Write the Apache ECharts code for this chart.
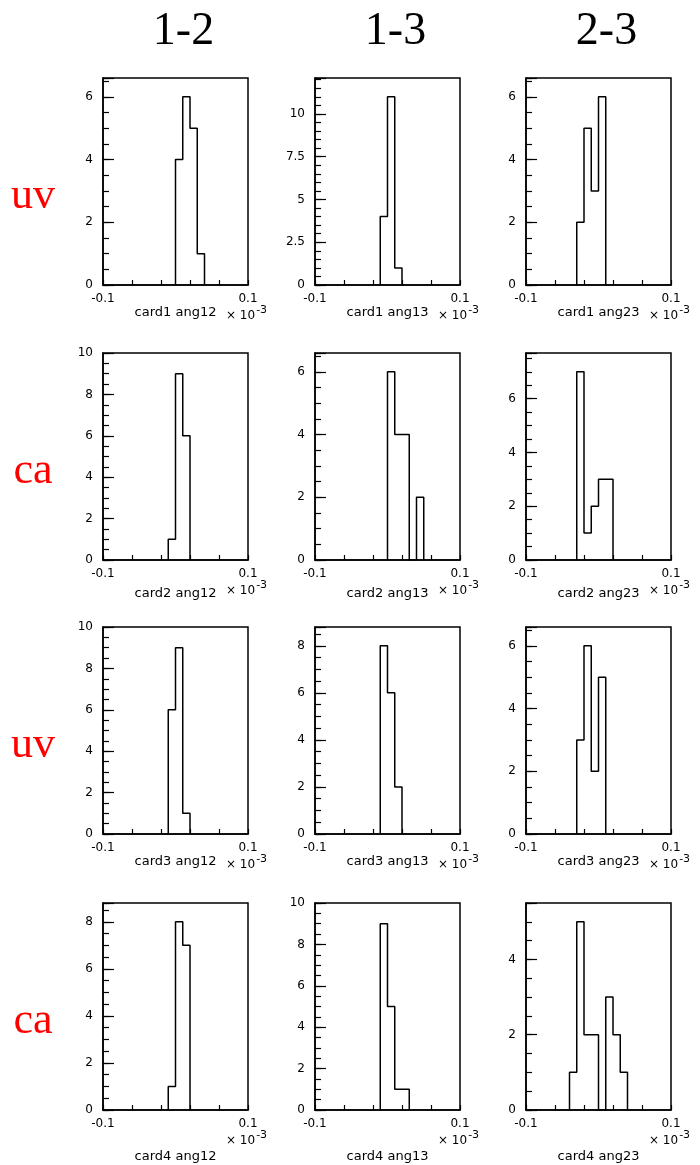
<!DOCTYPE html>
<html>
<head>
<meta charset="utf-8">
<script src="https://cdn.jsdelivr.net/npm/echarts@6/dist/echarts.min.js"></script>
<style>
  html, body { margin: 0; padding: 0; background: #fff; }
  #chart { width: 700px; height: 1165px; }
</style>
</head>
<body>
<div id="chart"></div>
<script>
// column / row headers
const columnNames = ['1-2', '1-3', '2-3'];
const rowNames = ['uv', 'ca', 'uv', 'ca'];

// one entry per panel, row by row
const panelTitles = [
  'card1 ang12', 'card1 ang13', 'card1 ang23',
  'card2 ang12', 'card2 ang13', 'card2 ang23',
  'card3 ang12', 'card3 ang13', 'card3 ang23',
  'card4 ang12', 'card4 ang13', 'card4 ang23'
];
const binWidth = 0.01;
const binStarts = [
  0.00, -0.01, -0.03,
  -0.01, 0.00, -0.03,
  -0.01, -0.01, -0.03,
  -0.01, -0.01, -0.04
];
const binCounts = [
  [4, 6, 5, 1], [4, 11, 1], [2, 5, 3, 6],
  [1, 9, 6], [6, 4, 4, 0, 2], [7, 1, 2, 3, 3],
  [6, 9, 1], [8, 6, 2], [3, 6, 2, 5],
  [1, 8, 7], [9, 5, 1, 1], [1, 5, 2, 2, 0, 3, 2, 1]
];
const yMaxes = [
  6.6, 12.1, 6.6,
  10, 6.6, 7.7,
  10, 8.8, 6.6,
  8.8, 10, 5.5
];
const yLabelSteps = [
  2, 2.5, 2,
  2, 2, 2,
  2, 2, 2,
  2, 2, 2
];
const yMinorStep = 0.5;
const xMin = -0.1;
const xMax = 0.1;
const xTickStep = 0.04;

// layout
const colLefts = [103, 315, 526];
const rowTops = [78, 353, 627, 903];
const titleGaps = [13, 27, 17, 40];
const boxW = 145;
const boxH = 207;
const labelFont = 'DejaVu Sans';
const serif = 'Liberation Serif';

function stepPoints(start, counts) {
  const pts = [[start, 0]];
  counts.forEach((c, i) => {
    const x0 = +(start + i * binWidth).toFixed(4);
    const x1 = +(start + (i + 1) * binWidth).toFixed(4);
    pts.push([x0, c]);
    pts.push([x1, c]);
  });
  pts.push([+(start + counts.length * binWidth).toFixed(4), 0]);
  return pts;
}

const grids = [];
const xAxes = [];
const yAxes = [];
const series = [];
const graphics = [];

panelTitles.forEach((title, i) => {
  const row = Math.floor(i / 3);
  const col = i % 3;
  const left = colLefts[col];
  const top = rowTops[row];
  const step = yLabelSteps[i];

  grids.push({
    left: left, top: top, width: boxW, height: boxH,
    show: true, borderColor: '#000', borderWidth: 1.5,
    backgroundColor: 'transparent'
  });

  xAxes.push({
    gridIndex: i, type: 'value', min: xMin, max: xMax, interval: xTickStep,
    axisLine: { onZero: false, lineStyle: { color: '#000', width: 1.5 } },
    axisTick: { inside: true, length: 5, lineStyle: { color: '#000', width: 1.2 } },
    splitLine: { show: false },
    axisLabel: {
      margin: 8, fontSize: 12, fontFamily: labelFont, color: '#000',
      showMinLabel: true, showMaxLabel: true,
      formatter: v => Math.abs(v - xMin) < 1e-9 ? '-0.1' : (Math.abs(v - xMax) < 1e-9 ? '0.1' : '')
    },
    name: title, nameLocation: 'middle', nameGap: titleGaps[row],
    nameTextStyle: { fontSize: 13, fontFamily: labelFont, color: '#000' }
  });

  // minor ticks every 0.5
  yAxes.push({
    gridIndex: i, type: 'value', min: 0, max: yMaxes[i], interval: yMinorStep,
    axisLine: { show: true, onZero: false, lineStyle: { color: '#000', width: 1.5 } },
    axisTick: { inside: true, length: 6, lineStyle: { color: '#000', width: 1.2 } },
    axisLabel: { show: false },
    splitLine: { show: false }
  });
  // labelled major ticks
  yAxes.push({
    gridIndex: i, type: 'value', min: 0, max: yMaxes[i], interval: step,
    position: 'left', offset: 0,
    axisLine: { show: false, onZero: false },
    axisTick: { inside: true, length: 11, lineStyle: { color: '#000', width: 1.2 } },
    splitLine: { show: false },
    axisLabel: {
      margin: 10, fontSize: 12, fontFamily: labelFont, color: '#000',
      formatter: v => Math.abs(v / step - Math.round(v / step)) < 1e-6 ? String(v) : ''
    }
  });

  series.push({
    type: 'line', xAxisIndex: i, yAxisIndex: 2 * i,
    data: stepPoints(binStarts[i], binCounts[i]),
    symbol: 'none', silent: true,
    lineStyle: { color: '#000', width: 1.5 }
  });

  graphics.push({
    type: 'text', left: left + boxW - 22, top: top + boxH + 20,
    style: {
      text: '× 10{s|-3}', fontSize: 12, fontFamily: labelFont, fill: '#000',
      rich: { s: { fontSize: 11, fontFamily: labelFont, fill: '#000', verticalAlign: 'top', padding: [0, 0, 10, 1] } }
    }
  });
});

columnNames.forEach((name, c) => {
  graphics.push({
    type: 'text', x: colLefts[c] + boxW / 2 + 8, y: 32,
    style: { text: name, fontSize: 46, fontFamily: serif, fill: '#000', align: 'center', verticalAlign: 'middle' }
  });
});

rowNames.forEach((name, r) => {
  graphics.push({
    type: 'text', x: 33, y: rowTops[r] + 118,
    style: { text: name, fontSize: 44, fontFamily: serif, fill: '#ff0000', align: 'center', verticalAlign: 'middle' }
  });
});

const chart = echarts.init(document.getElementById('chart'), null, { renderer: 'canvas' });
chart.setOption({
  animation: false,
  backgroundColor: '#fff',
  grid: grids,
  xAxis: xAxes,
  yAxis: yAxes,
  series: series,
  graphic: graphics
});
</script>
</body>
</html>
